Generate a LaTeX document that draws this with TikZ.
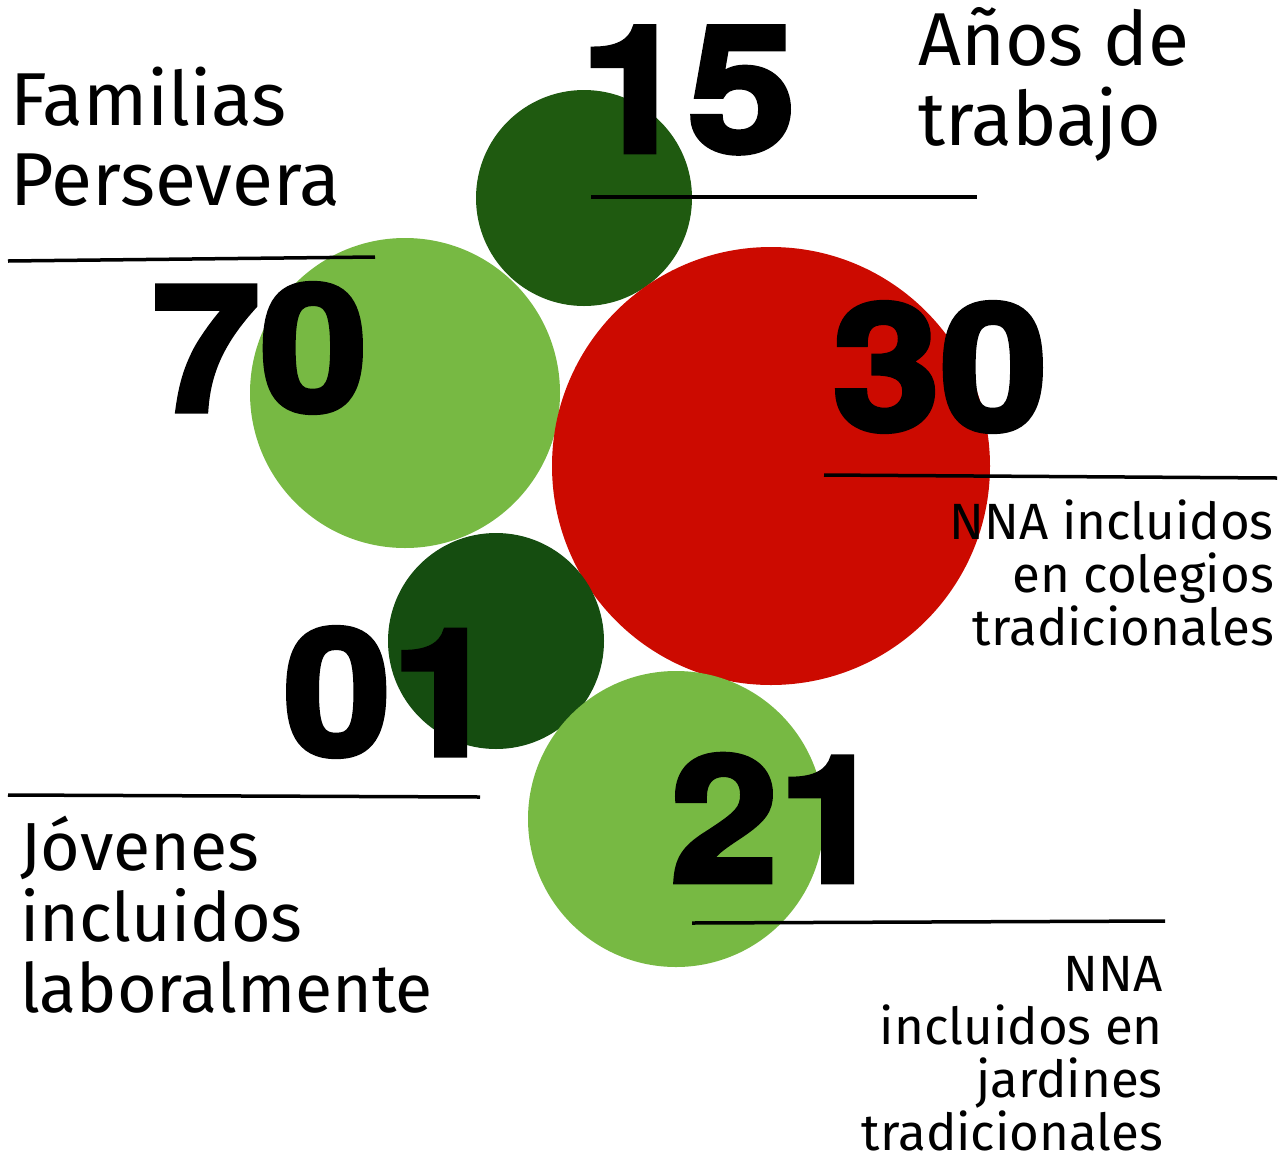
\documentclass[tikz,border=0pt]{standalone}
\usepackage{fontspec}
\setmainfont{Fira Sans}
\newfontfamily\numfont{TeX Gyre Heros}[BoldFeatures={FakeBold=3}]
\usetikzlibrary{positioning}

\definecolor{leafdark}{HTML}{1F5A10}
\definecolor{leafdeep}{HTML}{154D10}
\definecolor{leaflight}{HTML}{77B943}
\definecolor{chilered}{HTML}{CC0A00}

\newcommand{\widenum}[1]{\scalebox{1.1}[1]{#1}}

\tikzset{
    bubble/.style={circle, inner sep=0pt, draw=none},
    bignum/.style={font=\numfont\bfseries\fontsize{176}{176}\selectfont, inner sep=0pt},
    bigcap/.style={font=\fontsize{75}{80}\selectfont, inner sep=0pt, align=left},
    smallcap/.style={font=\fontsize{51}{53}\selectfont, inner sep=0pt, align=right},
    rule/.style={line width=3.5pt}
}

\begin{document}
\begin{tikzpicture}[x=1pt, y=-1pt]
    \useasboundingbox (0, 0) rectangle (1288, 1157);

    % bubbles
    \node[bubble, fill=leafdark, minimum size=216] (anos) at (584, 198) {};
    \node[bubble, fill=leaflight, minimum size=310] (familias) at (405, 393) {};
    \node[bubble, fill=chilered, minimum size=438] (colegios) at (771, 466) {};
    \node[bubble, fill=leafdeep, minimum size=216] (jovenes) at (496, 641) {};
    \node[bubble, fill=leaflight, minimum size=296] (jardines) at (676, 819) {};

    % rules
    \coordinate (r1a) at (591, 197);  \coordinate (r1b) at (977, 197);
    \coordinate (r2a) at (8, 261);    \coordinate (r2b) at (375, 257);
    \coordinate (r3a) at (824, 475);  \coordinate (r3b) at (1277, 478);
    \coordinate (r4a) at (8, 795);    \coordinate (r4b) at (480, 797);
    \coordinate (r5a) at (692, 923);  \coordinate (r5b) at (1165, 921);
    \foreach \r in {1,...,5} {
        \draw[rule] (r\r a) -- (r\r b);
    }

    % numbers
    \node[bignum] (n15) at (688, 90) {\widenum{15}};
    \node[bignum] (n70) at (260, 348) {\widenum{70}};
    \node[bignum] (n30) at (940, 367) {\widenum{30}};
    \node[bignum] (n01) at (391, 692) {\widenum{01}};
    \node[bignum] (n21) at (778, 818) {\widenum{21}};

    % captions (anchored at the last baseline)
    \node[bigcap, anchor=base west] (tfam) at (10, 205) {Familias\\Persevera};
    \node[bigcap, anchor=base west] (tanos) at (918, 145) {Años de\\trabajo};
    \node[bigcap, font=\fontsize{68}{71}\selectfont, anchor=base west] (tjov) at (20, 1012) {Jóvenes\\incluidos\\laboralmente};
    \node[smallcap, anchor=base east] (tcol) at (1274, 645) {NNA incluidos\\en colegios\\tradicionales};
    \node[smallcap, anchor=base east] (tjar) at (1163, 1150) {NNA\\incluidos en\\jardines\\tradicionales};
\end{tikzpicture}
\end{document}
